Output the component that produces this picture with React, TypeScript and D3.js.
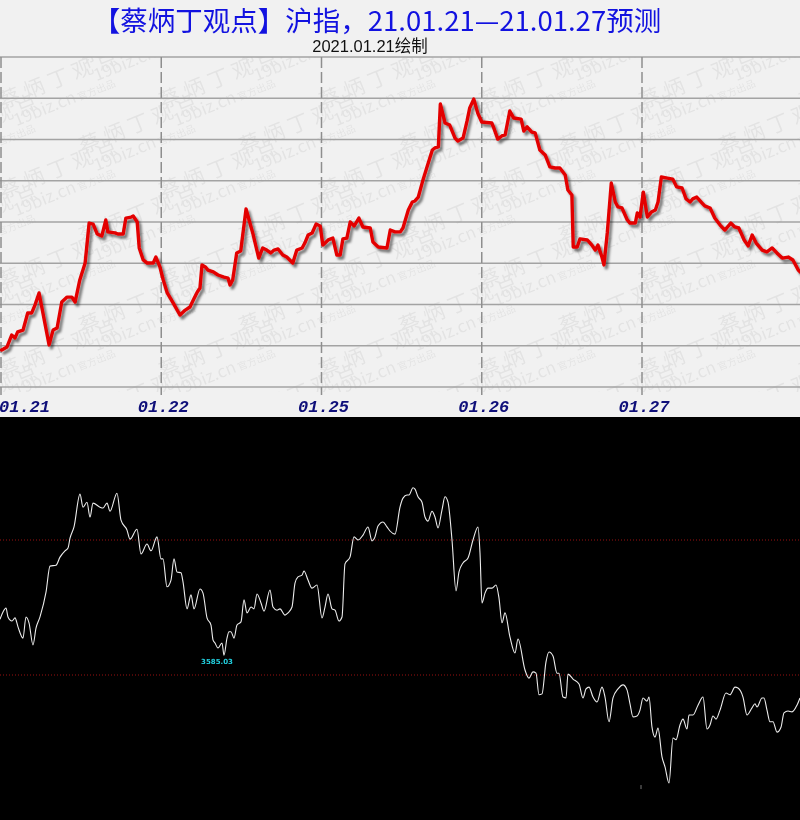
import React, { useEffect } from "react";
import * as d3 from "d3";

const W = 800;
const H = 820;

const title = "【蔡炳丁观点】沪指，21.01.21—21.01.27预测";
const subtitle = "2021.01.21绘制";
const dayLabels = ["01.21", "01.22", "01.25", "01.26", "01.27"];
const minutesPerDay = 240;
const topDomain = [3540, 3700];
const gridStep = 20;

// [trading minute from 01.21 open, index value]
const topPoints: [number, number][] = [
  [1, 3557.9], [9, 3559.4], [16, 3565.2], [21, 3563.8], [25, 3566.7], [33, 3567.6], [40, 3575.9], [46, 3575.9],
  [51, 3579.8], [57, 3585.6], [72, 3560.4], [78, 3567.6], [84, 3568.6], [91, 3581.2], [99, 3583.6], [106, 3583.6],
  [111, 3581.2], [118, 3591.9], [126, 3600.1], [132, 3619.5], [138, 3619.0], [144, 3614.2], [151, 3613.2], [157, 3621.0],
  [160, 3615.2], [171, 3614.7], [175, 3614.2], [183, 3614.2], [187, 3621.9], [195, 3622.4], [198, 3622.9], [204, 3620.0],
  [207, 3607.4], [213, 3601.6], [219, 3600.1], [228, 3600.1], [232, 3603.0], [238, 3598.2], [243, 3591.9], [249, 3585.6],
  [258, 3580.7], [268, 3574.9], [276, 3577.3], [283, 3578.8], [288, 3582.2], [294, 3586.1], [298, 3588.0], [301, 3599.2],
  [306, 3598.2], [310, 3596.7], [318, 3595.8], [325, 3594.3], [334, 3593.3], [340, 3592.8], [343, 3589.5], [347, 3591.9],
  [353, 3605.0], [359, 3605.9], [367, 3626.3], [377, 3614.7], [386, 3602.5], [392, 3607.4], [398, 3606.4], [404, 3605.0],
  [409, 3606.4], [415, 3606.9], [422, 3604.0], [428, 3603.0], [437, 3600.1], [443, 3606.4], [451, 3607.4], [455, 3609.8],
  [460, 3613.7], [466, 3614.7], [472, 3619.0], [478, 3618.1], [482, 3608.8], [490, 3611.3], [497, 3612.2], [503, 3604.0],
  [508, 3604.0], [512, 3611.8], [518, 3612.2], [523, 3620.0], [529, 3618.1], [536, 3621.9], [542, 3617.6], [553, 3617.1],
  [557, 3610.3], [565, 3607.9], [578, 3607.4], [583, 3616.1], [590, 3615.2], [598, 3615.2], [602, 3617.1], [610, 3625.8],
  [616, 3629.7], [620, 3630.2], [625, 3632.1], [632, 3640.4], [638, 3646.7], [646, 3654.9], [650, 3655.9], [655, 3656.4],
  [658, 3677.2], [665, 3668.0], [672, 3667.0], [680, 3660.7], [684, 3659.3], [692, 3660.7], [698, 3669.0], [702, 3675.3],
  [708, 3679.6], [714, 3672.8], [720, 3668.5], [735, 3668.0], [738, 3665.6], [744, 3660.2], [750, 3661.7], [755, 3662.2],
  [762, 3673.8], [768, 3670.4], [779, 3669.9], [783, 3664.1], [788, 3666.1], [795, 3663.6], [800, 3663.2], [807, 3654.9],
  [815, 3652.5], [822, 3646.7], [830, 3646.2], [837, 3646.2], [845, 3642.8], [849, 3635.5], [855, 3633.1], [857, 3607.9],
  [863, 3607.9], [867, 3611.8], [878, 3611.3], [885, 3608.8], [890, 3606.4], [894, 3608.8], [900, 3603.0], [903, 3599.2],
  [908, 3614.7], [914, 3638.9], [920, 3629.7], [924, 3627.3], [930, 3626.8], [938, 3621.0], [942, 3619.5], [950, 3619.5],
  [953, 3624.4], [957, 3622.4], [962, 3634.5], [968, 3622.4], [974, 3624.8], [980, 3625.8], [984, 3629.7], [989, 3641.8],
  [998, 3641.3], [1006, 3640.8], [1012, 3637.0], [1020, 3636.5], [1026, 3631.2], [1032, 3629.7], [1036, 3631.2], [1042, 3632.1],
  [1050, 3629.2], [1054, 3627.8], [1062, 3626.8], [1069, 3621.9], [1077, 3618.5], [1084, 3616.1], [1093, 3619.5], [1099, 3617.6],
  [1105, 3617.1], [1113, 3611.3], [1119, 3608.4], [1125, 3613.7], [1131, 3609.8], [1140, 3606.4], [1147, 3605.5], [1155, 3607.4],
  [1162, 3605.0], [1170, 3602.5], [1179, 3603.0], [1186, 3601.6], [1194, 3596.7], [1197, 3595.8],
];

// intraday panel: [minute of session, index value]
const bottomPoints: [number, number][] = [
  [0, 3602.4], [0.9, 3604.0], [1.8, 3604.9], [2.4, 3602.9], [3.6, 3602.0], [4.5, 3602.7], [5.4, 3600.7], [6.9, 3598.2],
  [7.8, 3602.9], [8.7, 3601.6], [9.9, 3596.7], [10.8, 3600.4], [12.0, 3602.9], [13.8, 3608.4], [15.0, 3614.2], [16.8, 3614.4],
  [18.0, 3616.2], [19.5, 3617.6], [20.4, 3618.2], [21.0, 3620.4], [22.2, 3622.9], [24.0, 3630.2], [24.9, 3627.3], [26.1, 3628.4],
  [27.0, 3625.1], [27.9, 3628.2], [30.0, 3627.3], [30.9, 3627.1], [32.1, 3628.2], [33.0, 3626.4], [35.1, 3630.4], [36.3, 3624.4],
  [38.1, 3622.2], [39.0, 3620.2], [41.1, 3622.4], [42.3, 3616.9], [44.1, 3619.1], [45.3, 3617.6], [47.1, 3620.7], [48.3, 3615.8],
  [48.9, 3615.8], [50.1, 3609.6], [51.3, 3611.1], [52.2, 3615.8], [53.1, 3612.9], [54.3, 3612.7], [54.9, 3610.7], [56.1, 3604.7],
  [57.3, 3607.8], [58.2, 3604.7], [60.0, 3609.1], [60.9, 3608.2], [62.1, 3602.7], [63.3, 3601.1], [63.9, 3597.8], [64.5, 3597.1],
  [65.4, 3596.0], [66.6, 3597.1], [67.2, 3594.4], [68.1, 3598.2], [68.7, 3599.6], [69.3, 3599.6], [70.2, 3598.2], [71.1, 3601.1],
  [72.3, 3601.8], [73.2, 3606.7], [74.1, 3603.8], [75.3, 3605.1], [76.2, 3604.7], [77.1, 3608.0], [78.3, 3606.0], [79.2, 3604.2],
  [81.0, 3608.9], [81.9, 3605.1], [83.1, 3604.4], [84.0, 3604.7], [85.5, 3603.3], [86.4, 3603.8], [87.6, 3605.1], [88.5, 3610.4],
  [89.4, 3611.8], [90.6, 3612.2], [91.2, 3613.1], [92.4, 3611.1], [93.6, 3609.3], [95.1, 3610.0], [96.6, 3602.7], [97.5, 3605.1],
  [98.4, 3608.0], [99.6, 3604.7], [100.5, 3604.4], [101.7, 3602.0], [102.6, 3602.9], [103.5, 3614.7], [105.0, 3616.2], [106.2, 3620.7],
  [107.4, 3620.0], [108.9, 3621.1], [110.4, 3622.9], [111.6, 3619.8], [112.5, 3620.7], [113.4, 3623.1], [114.9, 3624.0], [116.1, 3622.9],
  [117.0, 3622.0], [118.5, 3621.3], [120.0, 3627.3], [120.9, 3629.3], [122.1, 3630.0], [122.7, 3630.0], [123.9, 3631.6], [124.5, 3631.3],
  [125.4, 3629.6], [126.6, 3628.4], [127.5, 3625.1], [128.4, 3624.2], [129.6, 3626.4], [130.5, 3625.1], [131.4, 3622.7], [132.6, 3626.7],
  [133.5, 3629.6], [134.4, 3628.4], [135.6, 3620.0], [136.8, 3608.7], [137.7, 3612.9], [138.9, 3614.9], [140.4, 3616.0], [141.9, 3620.0],
  [143.4, 3622.9], [144.0, 3617.1], [144.6, 3606.0], [145.5, 3608.2], [146.4, 3609.3], [147.6, 3609.3], [148.8, 3610.0], [149.7, 3607.1],
  [150.6, 3601.6], [151.5, 3603.8], [153.0, 3598.4], [154.5, 3594.9], [155.4, 3598.0], [157.5, 3591.1], [158.7, 3589.3], [159.9, 3590.7],
  [160.8, 3590.4], [161.7, 3585.6], [162.6, 3585.8], [163.8, 3592.9], [164.7, 3595.1], [165.9, 3594.2], [167.1, 3590.4], [167.7, 3590.4],
  [168.9, 3585.1], [169.8, 3584.9], [170.4, 3590.2], [171.9, 3589.1], [173.7, 3588.0], [174.9, 3584.9], [175.8, 3586.9], [176.7, 3587.3],
  [177.9, 3585.1], [179.1, 3584.0], [180.6, 3587.3], [181.5, 3585.1], [182.7, 3579.6], [183.9, 3584.9], [185.4, 3586.9], [186.9, 3587.8],
  [188.1, 3586.7], [189.0, 3583.6], [189.9, 3580.7], [191.1, 3580.9], [192.0, 3582.2], [192.9, 3584.9], [194.1, 3584.2], [194.7, 3585.1],
  [195.6, 3578.4], [196.5, 3576.2], [197.4, 3578.2], [198.6, 3571.8], [199.5, 3569.6], [200.7, 3566.0], [201.9, 3576.0], [202.8, 3575.6],
  [204.0, 3578.9], [204.9, 3580.2], [206.1, 3578.0], [206.7, 3581.1], [207.9, 3581.1], [209.4, 3583.3], [210.9, 3585.1], [212.1, 3578.0],
  [213.0, 3578.9], [213.9, 3580.9], [214.8, 3580.2], [216.0, 3582.2], [217.8, 3586.0], [219.0, 3585.6], [220.5, 3587.3], [221.4, 3587.1],
  [222.9, 3585.1], [224.1, 3581.1], [225.6, 3582.7], [226.5, 3583.6], [227.1, 3582.9], [228.6, 3584.9], [229.2, 3584.9], [230.1, 3582.2],
  [231.0, 3579.6], [231.9, 3579.6], [233.1, 3577.3], [234.3, 3578.4], [235.2, 3581.6], [236.4, 3582.0], [237.6, 3581.8], [239.1, 3583.3],
  [240.0, 3584.9],
];
const bottomRefLevels = [3620, 3590];
const lowLabel = "3585.03";
const strayMark: [number, number] = [192.3, 3565.1];

const wmMain = "蔡炳丁观点";
const wmSite = "19biz.cn";
const wmTag = "官方出品";

export default function App() {
  useEffect(() => {
    document.body.style.margin = "0";
  }, []);

  const x = d3.scaleLinear().domain([0, minutesPerDay * dayLabels.length]).range([1, 802.25]);
  const y = d3.scaleLinear().domain(topDomain).range([387, 57]);
  const xb = d3.scaleLinear().domain([0, 240]).range([0, 800]);
  const yb = d3.scaleLinear().domain([3590, 3620]).range([675, 540]);

  const gridLevels = d3.range(topDomain[0], topDomain[1] + 1, gridStep);
  const dayTicks = dayLabels.map((_, i) => i * minutesPerDay);

  const topLine = d3.line<[number, number]>().x((d) => x(d[0])).y((d) => y(d[1]));
  const botLine = d3
    .line<[number, number]>()
    .x((d) => xb(d[0]))
    .y((d) => yb(d[1]))
    .curve(d3.curveMonotoneX);

  const lowPt = d3.least(bottomPoints.filter((p) => p[0] < 100), (p) => p[1]) as [number, number];

  const wmRows = d3.range(-1, 9);
  const wmCols = d3.range(-1, 6);

  const yTop = y(topDomain[1]);
  const yBot = y(topDomain[0]);

  return (
    <svg
      width={W}
      height={H}
      viewBox={`0 0 ${W} ${H}`}
      style={{ position: "absolute", left: 0, top: 0, display: "block" }}
    >
      <defs>
        <clipPath id="plotClip">
          <rect x={0} y={yTop} width={W} height={yBot - yTop + 5} />
        </clipPath>
        <clipPath id="lineClip">
          <rect x={0} y={yTop - 10} width={W} height={yBot - yTop + 20} />
        </clipPath>
        <filter id="shadow" x="-5%" y="-10%" width="110%" height="130%">
          <feDropShadow dx={2.5} dy={3} stdDeviation={1.3} floodColor="#000" floodOpacity={0.5} />
        </filter>
      </defs>

      {/* top panel */}
      <rect x={0} y={0} width={W} height={417} fill="#f1f1f1" />

      {/* watermark */}
      <g clipPath="url(#plotClip)" fontFamily="'Noto Sans CJK SC', sans-serif" fill="#000" opacity={0.055}>
        {wmRows.map((r) =>
          wmCols.map((c) => {
            const ox = 3 + c * 160 + (r % 2 === 0 ? 80 : 0);
            const oy = 64 + r * 45;
            return (
              <g key={`${r}-${c}`} transform={`translate(${ox},${oy}) rotate(-22)`}>
                <text x={0} y={0} fontSize={21} letterSpacing={5}>
                  {wmMain}
                </text>
                <text x={6} y={21} fontSize={17}>
                  {wmSite}
                  <tspan fontSize={10} dx={2}>
                    {wmTag}
                  </tspan>
                </text>
              </g>
            );
          })
        )}
      </g>

      {/* horizontal grid */}
      {gridLevels.map((g) => (
        <line key={g} x1={0} x2={W} y1={y(g)} y2={y(g)} stroke="#a3a3a3" strokeWidth={1.5} />
      ))}

      {/* vertical dashed day lines + ticks */}
      {dayTicks.map((t) => (
        <line
          key={t}
          x1={x(t)}
          x2={x(t)}
          y1={yTop}
          y2={yBot + 8}
          stroke="#8e8e8e"
          strokeWidth={1.5}
          strokeDasharray="11,4"
        />
      ))}

      {/* red forecast line */}
      <g clipPath="url(#lineClip)">
        <path
          d={topLine(topPoints) || ""}
          fill="none"
          stroke="#e30000"
          strokeWidth={3.4}
          strokeLinejoin="round"
          strokeLinecap="round"
          filter="url(#shadow)"
        />
      </g>

      {/* day labels */}
      {dayLabels.map((lab, i) => (
        <text
          key={lab}
          x={i === 0 ? -1 : x(dayTicks[i]) + 2}
          y={412}
          textAnchor={i === 0 ? "start" : "middle"}
          fontFamily="'Liberation Mono', 'DejaVu Sans Mono', monospace"
          fontWeight="bold"
          fontStyle="italic"
          fontSize={17}
          fill="#10107a"
        >
          {lab}
        </text>
      ))}

      {/* titles */}
      <text
        x={377}
        y={31}
        textAnchor="middle"
        fontFamily="'Noto Sans CJK SC', sans-serif"
        fontSize={27.5}
        fill="#1212e0"
      >
        {title}
      </text>
      <text
        x={370}
        y={52}
        textAnchor="middle"
        fontFamily="'Liberation Sans', 'Noto Sans CJK SC', sans-serif"
        fontSize={16.5}
        fill="#111"
      >
        {subtitle}
      </text>

      {/* bottom panel */}
      <rect x={0} y={417} width={W} height={H - 417} fill="#000" />
      {bottomRefLevels.map((lv) => (
        <line
          key={lv}
          x1={0}
          x2={W}
          y1={yb(lv)}
          y2={yb(lv)}
          stroke="#9a1010"
          strokeWidth={1}
          strokeDasharray="1,2"
        />
      ))}
      <path d={botLine(bottomPoints) || ""} fill="none" stroke="#ececec" strokeWidth={1.1} />
      <text
        x={xb(lowPt[0]) - 7}
        y={yb(lowPt[1]) + 9}
        textAnchor="middle"
        fontFamily="'DejaVu Sans', sans-serif"
        fontWeight="bold"
        fontSize={7}
        fill="#22d0e0"
      >
        {lowLabel}
      </text>
      <line
        x1={xb(strayMark[0])}
        x2={xb(strayMark[0])}
        y1={yb(strayMark[1]) - 2}
        y2={yb(strayMark[1]) + 2}
        stroke="#777"
        strokeWidth={1}
      />
    </svg>
  );
}
